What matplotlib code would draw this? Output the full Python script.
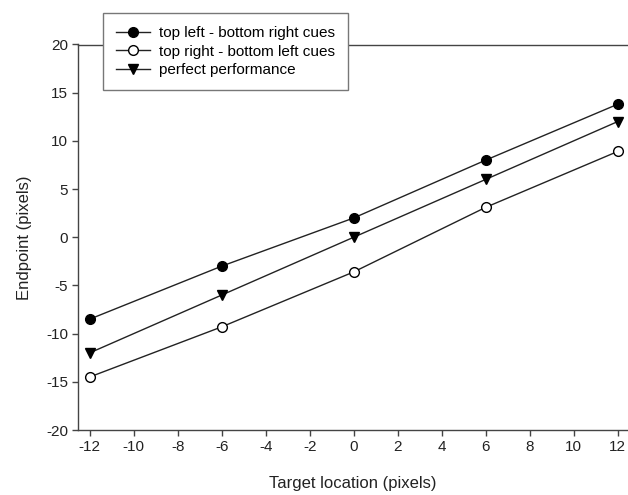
import matplotlib
matplotlib.use("Agg")
import matplotlib.pyplot as plt
from matplotlib.lines import Line2D

# target locations (pixels)
targets = [-12, -6, 0, 6, 12]
tlbr = [-8.5, -3.0, 2.0, 8.0, 13.8]      # top left - bottom right cues
trbl = [-14.5, -9.3, -3.6, 3.1, 8.9]     # top right - bottom left cues
perfect = [-12, -6, 0, 6, 12]            # perfect performance

labels = ["top left - bottom right cues",
          "top right - bottom left cues",
          "perfect performance"]

plt.rcParams['font.family'] = ['Liberation Sans', 'DejaVu Sans']
plt.rcParams['axes.unicode_minus'] = False

fig = plt.figure(figsize=(6.28, 4.95), dpi=100)
ax = fig.add_axes([78 / 628, 1 - 430 / 495, 1 - 78 / 628, (430 - 44.5) / 495])

lc = '#222222'
ms = 7
ax.plot(targets, tlbr, '-o', color=lc, lw=1.0, ms=ms, mfc='black', mec='black', zorder=3)
ax.plot(targets, trbl, '-o', color=lc, lw=1.0, ms=ms, mfc='white', mec='black', mew=1.0, zorder=3)
ax.plot(targets, perfect, '-v', color=lc, lw=1.0, ms=ms, mfc='black', mec='black', zorder=3)

ax.set_xlim(-12.53, 12.47)
ax.set_ylim(-20, 20)
ax.set_xticks(range(-12, 13, 2))
ax.set_yticks(range(-20, 21, 5))

for s in ['left', 'bottom', 'top']:
    ax.spines[s].set_color('#444444')
    ax.spines[s].set_linewidth(1.0)
ax.spines['right'].set_visible(False)
ax.tick_params(direction='out', length=4, width=1.0, color='#444444',
               labelsize=11, labelcolor='#222222', pad=3)

ax.set_xlabel("Target location (pixels)", fontsize=12, color='#222222', labelpad=16)
ax.set_ylabel("Endpoint (pixels)", fontsize=12, color='#222222', labelpad=10)

handles = [
    Line2D([], [], color=lc, lw=1.0, marker='o', ms=ms, mfc='black', mec='black'),
    Line2D([], [], color=lc, lw=1.0, marker='o', ms=ms, mfc='white', mec='black'),
    Line2D([], [], color=lc, lw=1.0, marker='v', ms=ms, mfc='black', mec='black'),
]
leg = fig.legend(handles, labels, loc='upper left',
                 bbox_to_anchor=(103 / 628, 1 - 13 / 495),
                 fontsize=11, frameon=True, fancybox=False,
                 edgecolor='#777777', framealpha=1.0,
                 handlelength=2.2, handletextpad=0.6, labelspacing=0.3,
                 borderpad=0.85, borderaxespad=0)
leg.get_frame().set_linewidth(1.0)
leg.set_zorder(5)

fig.savefig("out.png", dpi=100)
